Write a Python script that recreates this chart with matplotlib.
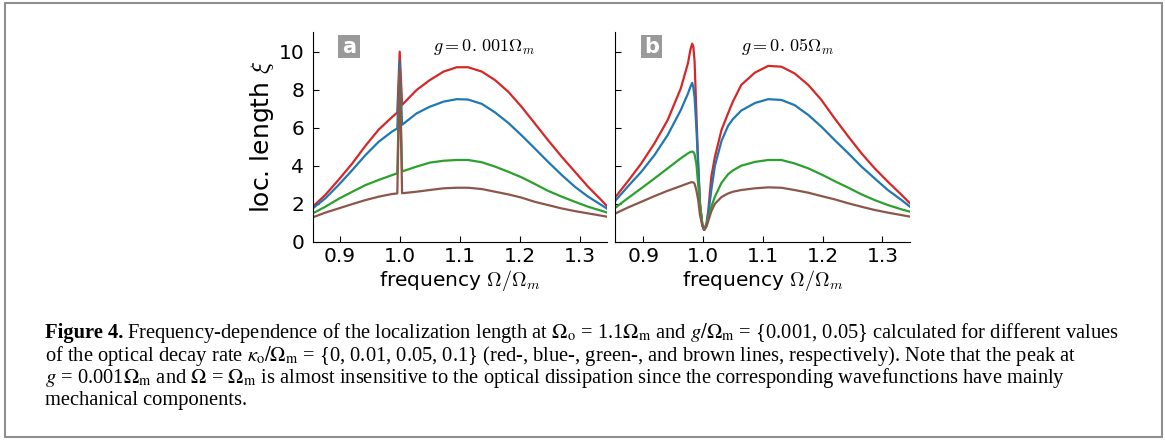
import matplotlib
matplotlib.use('Agg')
import matplotlib.pyplot as plt
from matplotlib.patches import Rectangle

# panel a: g = 0.001 Omega_m
freq_a = [0.855, 0.876, 0.898, 0.921, 0.943, 0.965, 0.987, 0.996, 1.0, 1.004,
          1.028, 1.05, 1.073, 1.095, 1.114, 1.137, 1.159, 1.181, 1.203, 1.225, 1.247, 1.27,
          1.292, 1.314, 1.336, 1.345]
red_a = [1.84, 2.46, 3.25, 4.12, 5.05, 5.9, 6.55, 6.8, 10.0, 7.2,
         7.98, 8.5, 8.95, 9.18, 9.18, 8.95, 8.5, 7.89, 7.1, 6.23, 5.35, 4.47,
         3.68, 2.89, 2.19, 1.88]
blue_a = [1.75, 2.28, 2.98, 3.77, 4.56, 5.26, 5.79, 5.96, 9.47, 6.15,
          6.75, 7.1, 7.37, 7.5, 7.48, 7.25, 6.8, 6.25, 5.6, 4.91, 4.21, 3.51,
          2.89, 2.37, 1.93, 1.75]
green_a = [1.49, 1.84, 2.25, 2.63, 2.98, 3.25, 3.5, 3.6, 9.04, 3.7,
           3.95, 4.16, 4.26, 4.3, 4.3, 4.18, 3.95, 3.68, 3.39, 3.04, 2.68, 2.37,
           2.1, 1.84, 1.63, 1.54]
brown_a = [1.28, 1.53, 1.75, 1.98, 2.19, 2.37, 2.51, 2.54, 9.04, 2.55,
           2.63, 2.72, 2.81, 2.84, 2.84, 2.77, 2.63, 2.49, 2.32, 2.1, 1.93, 1.75,
           1.61, 1.49, 1.37, 1.32]

# panel b: g = 0.05 Omega_m
freq_b = [0.852, 0.874, 0.897, 0.919, 0.941, 0.963, 0.975, 0.979,
          0.982, 0.984, 0.986, 0.989, 0.992, 0.995, 0.999, 1.002,
          1.006, 1.009, 1.014, 1.02, 1.031, 1.042, 1.05,
          1.064, 1.087, 1.109, 1.131, 1.153, 1.176, 1.198,
          1.22, 1.243, 1.265, 1.287, 1.309, 1.332, 1.346]
red_b = [2.28, 3.16, 4.12, 5.18, 6.4, 8.07, 9.4, 10.1,
         10.42, 10.25, 9.5, 6.76, 4.13, 2.03, 0.85, 0.62,
         0.97, 1.67, 3.42, 4.47, 5.88, 6.76, 7.37,
         8.25, 8.9, 9.25, 9.21, 8.86, 8.25, 7.46,
         6.49, 5.53, 4.65, 3.86, 3.16, 2.46, 2.02]
blue_b = [2.1, 2.89, 3.68, 4.56, 5.61, 6.93, 7.8, 8.15,
          8.36, 8.1, 7.6, 6.0, 4.0, 2.0, 0.85, 0.62,
          0.92, 1.5, 2.72, 4.0, 5.3, 6.1, 6.45,
          6.9, 7.3, 7.5, 7.46, 7.19, 6.67, 6.05,
          5.35, 4.65, 3.95, 3.33, 2.72, 2.19, 1.84]
green_b = [1.75, 2.28, 2.81, 3.33, 3.86, 4.39, 4.65, 4.72,
           4.74, 4.72, 4.6, 4.1, 3.0, 1.9, 0.95, 0.62,
           0.85, 1.25, 1.85, 2.37, 3.1, 3.55, 3.75,
           4.0, 4.2, 4.3, 4.3, 4.12, 3.86, 3.54,
           3.19, 2.84, 2.49, 2.19, 1.93, 1.7, 1.58]
brown_b = [1.46, 1.79, 2.1, 2.4, 2.68, 2.93, 3.07, 3.12,
           3.13, 3.12, 3.05, 2.7, 2.2, 1.4, 0.85, 0.62,
           0.8, 1.1, 1.6, 2.0, 2.35, 2.54, 2.63,
           2.72, 2.81, 2.86, 2.84, 2.72, 2.58, 2.4,
           2.23, 2.02, 1.84, 1.67, 1.53, 1.4, 1.32]

# kappa_o / Omega_m = 0, 0.01, 0.05, 0.1
colors = ['#d62728', '#1f77b4', '#2ca02c', '#8c564b']
xticks = [0.9, 1.0, 1.1, 1.2, 1.3]
yticks = [0, 2, 4, 6, 8, 10]

plt.rcParams['font.family'] = 'DejaVu Sans'
plt.rcParams['mathtext.fontset'] = 'cm'

fig = plt.figure(figsize=(11.65, 4.41), dpi=100)
ax_a = fig.add_axes([0.2684, 0.4519, 0.2524, 0.4762])
ax_b = fig.add_axes([0.5279, 0.4519, 0.2532, 0.4762])

panels = [
    (ax_a, freq_a, [red_a, blue_a, green_a, brown_a], 'a', r'$g=0.\,001\Omega_m$', (0.855, 1.345)),
    (ax_b, freq_b, [red_b, blue_b, green_b, brown_b], 'b', r'$g=0.\,05\Omega_m$', (0.853, 1.346)),
]

for ax, x, ys, letter, gtxt, xlim in panels:
    for y, c in zip(ys, colors):
        ax.plot(x, y, color=c, lw=1.6)
    ax.set_xlim(*xlim)
    ax.set_ylim(0, 11.05)
    ax.set_xticks(xticks)
    ax.set_yticks(yticks)
    ax.spines['top'].set_visible(False)
    ax.spines['right'].set_visible(False)
    ax.tick_params(direction='in', length=4, labelsize=14.5)
    ax.tick_params(axis='x', pad=3.5)
    ax.tick_params(axis='y', pad=6)
    ax.set_xlabel(r'frequency $\Omega/\Omega_m$', fontsize=14.5, labelpad=1.5)
    # grey panel letter box
    ax.add_patch(Rectangle((0.087, 0.876), 0.074, 0.108, transform=ax.transAxes,
                           fc='#999999', ec='none'))
    ax.text(0.124, 0.928, letter, transform=ax.transAxes, ha='center', va='center',
            color='white', fontsize=15, fontweight='bold')
    ax.text(0.585, 0.929, gtxt, transform=ax.transAxes, ha='center', va='center',
            fontsize=13)

ax_a.set_ylabel(r'loc. length $\xi$', fontsize=18, labelpad=2)
ax_b.tick_params(labelleft=False)

# caption below the plots
cap_kw = dict(family='Liberation Serif', fontsize=14.8, va='baseline', math_fontfamily='stix')
W, H = 1165.0, 441.0
x0 = 45 / W
t_bold = fig.text(x0, 1 - 338 / H, 'Figure 4.', fontweight='bold', **cap_kw)
fig.canvas.draw()
bb = t_bold.get_window_extent()
fig.text(bb.x1 / W + 4 / W, 1 - 338 / H,
         r'Frequency-dependence of the localization length at $\Omega_\mathrm{o}$ = 1.1$\Omega_\mathrm{m}$'
         r' and $g/\Omega_\mathrm{m}$ = {0.001, 0.05} calculated for different values', **cap_kw)
fig.text(x0, 1 - 361 / H,
         r'of the optical decay rate $\kappa_\mathrm{o}/\Omega_\mathrm{m}$ = {0, 0.01, 0.05, 0.1}'
         r' (red-, blue-, green-, and brown lines, respectively). Note that the peak at', **cap_kw)
fig.text(x0, 1 - 383 / H,
         r'$g$ = 0.001$\Omega_\mathrm{m}$ and $\Omega$ = $\Omega_\mathrm{m}$ is almost insensitive to the'
         r' optical dissipation since the corresponding wavefunctions have mainly', **cap_kw)
fig.text(x0, 1 - 405 / H, 'mechanical components.', **cap_kw)

# grey frame around the whole figure
fig.add_artist(Rectangle((5 / W, 1 - 437 / H), 1157 / W, 434 / H, transform=fig.transFigure,
                         fill=False, ec='#8f8f8f', lw=1.5))

fig.savefig('out.png', dpi=100)
